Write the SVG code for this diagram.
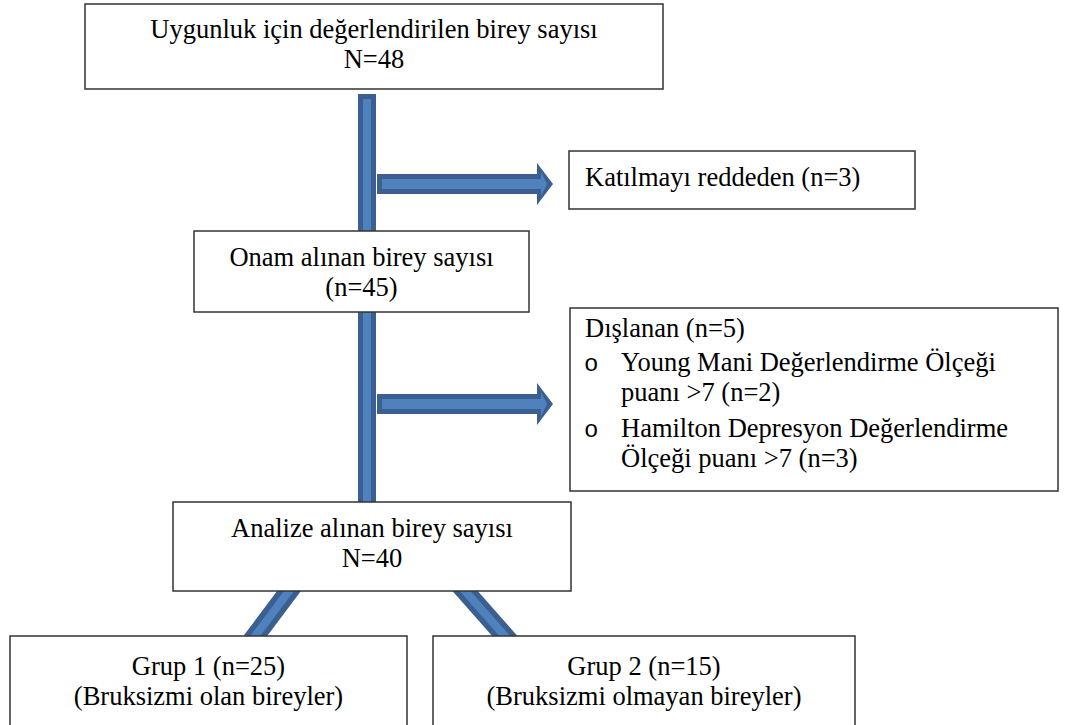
<svg xmlns="http://www.w3.org/2000/svg" xmlns:xlink="http://www.w3.org/1999/xlink" width="1076" height="725" viewBox="0 0 1076 725">
<style>
.box{fill:#ffffff;stroke:#333333;stroke-width:1.5}
text{font-family:"Liberation Serif","Times New Roman","DejaVu Serif",serif;font-size:26.5px;fill:#000}
.c{text-anchor:middle}
.b{font-family:"Liberation Mono","Courier New",monospace;font-size:24px}
.od{fill:#3b5f91}
.il{fill:#4f81bd}
.ld{stroke:#3b5f91;stroke-width:19;fill:none}
.ll{stroke:#4f81bd;stroke-width:8;fill:none}
</style>
<defs>
<g id="harrow">
<polygon class="od" points="377,-10 537,-10 537,-21 553,0 537,21 537,10 377,10"/>
<polygon class="il" points="382,-5 541,-5 541,-12 547,0 541,12 541,5 382,5"/>
</g>
</defs>
<g id="connectors">
<rect class="od" x="358" y="94" width="18" height="410"/>
<rect class="il" x="363" y="99" width="8" height="405"/>
<use xlink:href="#harrow" href="#harrow" y="184"/>
<use xlink:href="#harrow" href="#harrow" y="404"/>
<line class="ld" x1="295" y1="583" x2="250" y2="643"/>
<line class="ll" x1="295" y1="583" x2="250" y2="643"/>
<line class="ld" x1="458" y1="583" x2="511" y2="643"/>
<line class="ll" x1="458" y1="583" x2="511" y2="643"/>
</g>
<g id="n_top">
<rect class="box" x="85" y="4" width="578" height="85"/>
<text class="c" x="374" y="38">Uygunluk için değerlendirilen birey sayısı</text>
<text class="c" x="374" y="68">N=48</text>
</g>
<g id="n_reddeden">
<rect class="box" x="569" y="151" width="346" height="58"/>
<text x="585" y="186">Katılmayı reddeden (n=3)</text>
</g>
<g id="n_onam">
<rect class="box" x="194" y="231" width="335" height="81"/>
<text class="c" x="361.5" y="266">Onam alınan birey sayısı</text>
<text class="c" x="361.5" y="296">(n=45)</text>
</g>
<g id="n_dislanan">
<rect class="box" x="570" y="308" width="488" height="183"/>
<text x="585" y="337">Dışlanan (n=5)</text>
<text class="b" x="584" y="371">o</text>
<text x="621" y="371">Young Mani Değerlendirme Ölçeği</text>
<text x="621" y="401">puanı &gt;7 (n=2)</text>
<text class="b" x="584" y="437">o</text>
<text x="621" y="437">Hamilton Depresyon Değerlendirme</text>
<text x="621" y="467">Ölçeği puanı &gt;7 (n=3)</text>
</g>
<g id="n_analiz">
<rect class="box" x="173" y="502" width="398" height="89"/>
<text class="c" x="372" y="537">Analize alınan birey sayısı</text>
<text class="c" x="372" y="567">N=40</text>
</g>
<g id="n_grup1">
<rect class="box" x="10" y="636" width="397" height="100"/>
<text class="c" x="208.5" y="675">Grup 1 (n=25)</text>
<text class="c" x="208.5" y="705">(Bruksizmi olan bireyler)</text>
</g>
<g id="n_grup2">
<rect class="box" x="433" y="636" width="422" height="100"/>
<text class="c" x="644" y="675">Grup 2 (n=15)</text>
<text class="c" x="644" y="705">(Bruksizmi olmayan bireyler)</text>
</g>
</svg>
